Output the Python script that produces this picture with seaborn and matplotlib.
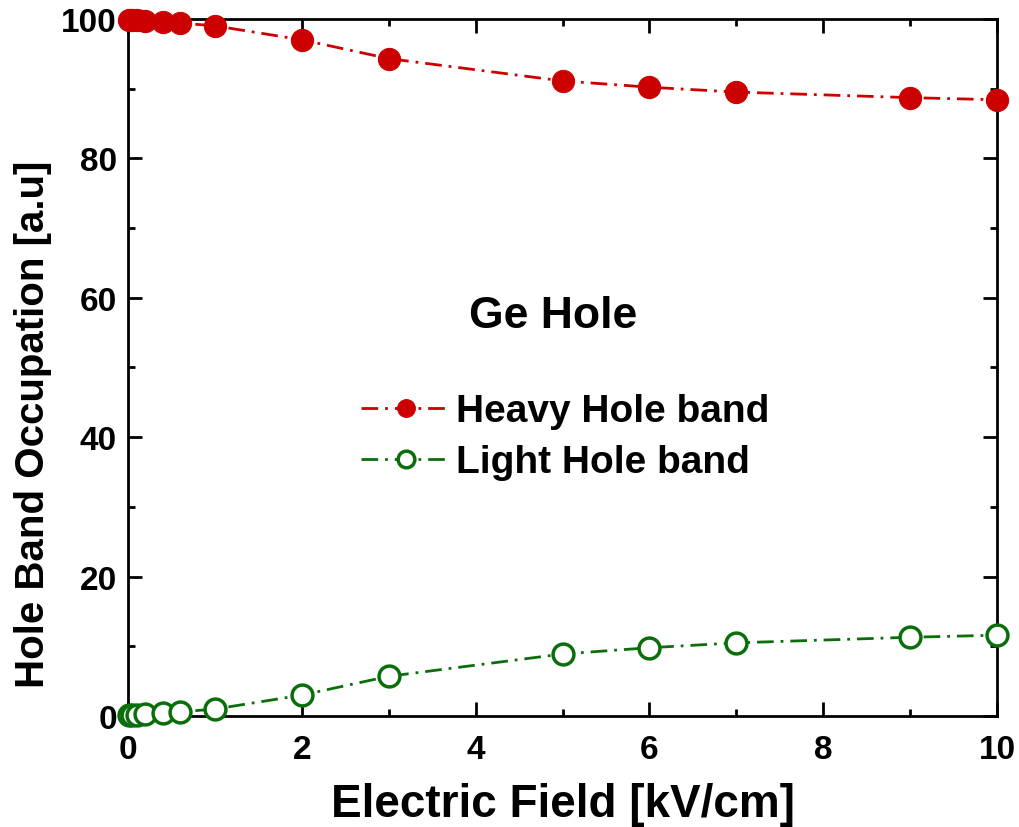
import pandas as pd
import matplotlib
matplotlib.use("Agg")
import matplotlib.pyplot as plt
import seaborn as sns
from matplotlib.ticker import MultipleLocator

# Data
field = [0.01, 0.05, 0.1, 0.2, 0.4, 0.6, 1, 2, 3, 5, 6, 7, 9, 10]
heavy = [99.9, 99.9, 99.8, 99.7, 99.6, 99.4, 99.0, 97.0, 94.3, 91.1, 90.2, 89.5, 88.7, 88.4]
light = [0.1, 0.1, 0.2, 0.3, 0.4, 0.6, 1.0, 3.0, 5.7, 8.9, 9.8, 10.5, 11.3, 11.6]

df = pd.DataFrame({"field": field, "heavy": heavy, "light": light})

sns.set_style("ticks")
plt.rcParams['font.family'] = ['Liberation Sans', 'DejaVu Sans']
plt.rcParams['font.weight'] = 'bold'
for k in ["text.color", "axes.labelcolor", "xtick.color", "ytick.color", "axes.edgecolor"]:
    plt.rcParams[k] = "black"

fig = plt.figure(figsize=(10.2, 8.28), dpi=100)
ax = fig.add_axes([0.1255, 0.134, 0.852, 0.842])

dash = (0, (6, 2.5, 1, 2.5))
sns.lineplot(data=df, x="field", y="heavy", ax=ax, color="#cc0000",
             linestyle=dash, linewidth=2, marker="o", markersize=16,
             markeredgecolor="#cc0000", markerfacecolor="#cc0000",
             label="Heavy Hole band", clip_on=False, zorder=3)
sns.lineplot(data=df, x="field", y="light", ax=ax, color="#0a6e0a",
             linestyle=dash, linewidth=2, marker="o", markersize=15,
             markeredgecolor="#0a6e0a", markerfacecolor="white", markeredgewidth=2.5,
             label="Light Hole band", clip_on=False, zorder=3)

ax.set_xlim(0, 10)
ax.set_ylim(0, 100)
ax.xaxis.set_major_locator(MultipleLocator(2))
ax.xaxis.set_minor_locator(MultipleLocator(1))
ax.yaxis.set_major_locator(MultipleLocator(20))
ax.yaxis.set_minor_locator(MultipleLocator(10))
ax.tick_params(which="both", direction="in", top=True, right=True, width=2)
ax.tick_params(which="major", length=10, labelsize=24, pad=8)
ax.tick_params(axis="x", which="major", pad=13)
ax.tick_params(which="minor", length=5)
for s in ax.spines.values():
    s.set_linewidth(2)
    s.set_visible(True)

ax.set_xlabel("Electric Field [kV/cm]", fontsize=33, fontweight="bold", labelpad=12)
ax.set_ylabel("Hole Band Occupation [a.u]", fontsize=29, fontweight="bold")
ax.yaxis.set_label_coords(-0.088, 0.42)

ax.text(4.89, 57.5, "Ge Hole", fontsize=32, fontweight="bold", ha="center", va="center")

ax.legend(loc="upper left", bbox_to_anchor=(0.25, 0.485), frameon=False,
          fontsize=28, handlelength=2.3, handletextpad=0.15, labelspacing=0.38,
          borderaxespad=0, markerscale=0.8)

fig.savefig("out.png", dpi=100)
